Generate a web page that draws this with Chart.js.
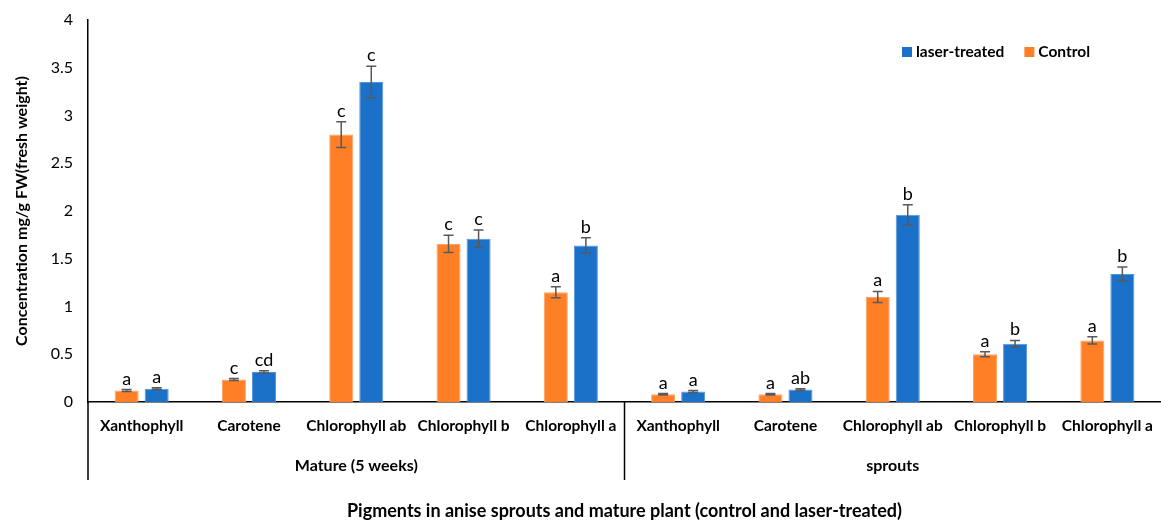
<!DOCTYPE html>
<html>
<head>
<meta charset="utf-8">
<script src="https://cdn.jsdelivr.net/npm/chart.js@4.4.1/dist/chart.umd.min.js"></script>
<style>
  html, body { margin: 0; padding: 0; background: #fff; }
  #wrap { width: 1161px; height: 525px; position: relative; }
</style>
</head>
<body>
<div id="wrap"><canvas id="myChart"></canvas></div>
<script>
var pigments = ["Xanthophyll", "Carotene", "Chlorophyll ab", "Chlorophyll b", "Chlorophyll a",
                "Xanthophyll", "Carotene", "Chlorophyll ab", "Chlorophyll b", "Chlorophyll a"];
var groups = ["Mature (5 weeks)", "sprouts"];
var groupSizes = [5, 5];

var controlValues = [0.12, 0.235, 2.8, 1.655, 1.15, 0.08, 0.08, 1.1, 0.5, 0.645];
var laserValues   = [0.14, 0.315, 3.35, 1.71, 1.64, 0.11, 0.13, 1.96, 0.61, 1.34];
var controlErr = [0.01, 0.01, 0.135, 0.09, 0.058, 0.008, 0.008, 0.058, 0.025, 0.037];
var laserErr   = [0.01, 0.012, 0.165, 0.09, 0.08, 0.01, 0.01, 0.105, 0.035, 0.073];
var controlLetters = ["a", "c", "c", "c", "a", "a", "a", "a", "a", "a"];
var laserLetters   = ["a", "cd", "c", "c", "b", "a", "ab", "b", "b", "b"];
var yTicks = [0, 0.5, 1, 1.5, 2, 2.5, 3, 3.5, 4];

var FONT = "Lato, 'Open Sans', sans-serif";

// error bars and the significance letters above them
const errorBarPlugin = {
  id: 'errorBars',
  afterDatasetsDraw(chart) {
    const ctx = chart.ctx;
    const y = chart.scales.y;
    chart.data.datasets.forEach((ds, i) => {
      const meta = chart.getDatasetMeta(i);
      meta.data.forEach((bar, j) => {
        const v = ds.data[j], e = ds.errors[j];
        const top = y.getPixelForValue(v + e);
        const bot = y.getPixelForValue(v - e);
        ctx.save();
        ctx.strokeStyle = '#595959';
        ctx.lineWidth = 1.5;
        ctx.beginPath();
        ctx.moveTo(bar.x, top); ctx.lineTo(bar.x, bot);
        ctx.moveTo(bar.x - 5, top); ctx.lineTo(bar.x + 5, top);
        ctx.moveTo(bar.x - 5, bot); ctx.lineTo(bar.x + 5, bot);
        ctx.stroke();
        ctx.fillStyle = '#000';
        ctx.font = '18px ' + FONT;
        ctx.textAlign = 'center';
        ctx.textBaseline = 'alphabetic';
        ctx.fillText(ds.letters[j], bar.x, top - 5);
        ctx.restore();
      });
    });
  }
};

// group labels under the category ticks, plus the divider lines
const groupPlugin = {
  id: 'groupAxis',
  afterDraw(chart) {
    const ctx = chart.ctx;
    const x = chart.scales.x;
    const area = chart.chartArea;
    const lineBottom = area.bottom + 78;
    ctx.save();
    ctx.strokeStyle = '#000';
    ctx.lineWidth = 1.5;
    ctx.fillStyle = '#000';
    ctx.font = 'bold 16px ' + FONT;
    ctx.textAlign = 'center';
    ctx.textBaseline = 'middle';
    ctx.beginPath();
    ctx.moveTo(area.left, area.bottom); ctx.lineTo(area.left, lineBottom);
    let start = 0;
    groups.forEach((g, k) => {
      const end = start + groupSizes[k] - 1;
      const half = (x.getPixelForTick(1) - x.getPixelForTick(0)) / 2;
      const x0 = x.getPixelForTick(start) - half;
      const x1 = x.getPixelForTick(end) + half;
      if (k < groups.length - 1) {
        ctx.moveTo(x1, area.bottom); ctx.lineTo(x1, lineBottom);
      }
      ctx.fillText(g, (x0 + x1) / 2, area.bottom + 64);
      start = end + 1;
    });
    ctx.stroke();
    ctx.restore();
  }
};

// legend inside the plot, laser-treated first
const legendPlugin = {
  id: 'innerLegend',
  afterDraw(chart) {
    const ctx = chart.ctx;
    ctx.save();
    ctx.font = 'bold 15.5px ' + FONT;
    ctx.textBaseline = 'middle';
    ctx.textAlign = 'left';
    let lx = 902;
    const ly = 52;
    chart.data.datasets.slice().reverse().forEach(ds => {
      ctx.fillStyle = ds.backgroundColor;
      ctx.fillRect(lx, ly - 5, 10, 10);
      ctx.fillStyle = '#000';
      ctx.fillText(ds.label, lx + 14, ly);
      lx += 14 + ctx.measureText(ds.label).width + 20;
    });
    ctx.restore();
  }
};

const config = {
  type: 'bar',
  data: {
    labels: pigments,
    datasets: [{
      label: 'Control',
      data: controlValues,
      errors: controlErr,
      letters: controlLetters,
      backgroundColor: '#FF7F27',
      borderColor: '#FFA466',
      borderWidth: 1
    }, {
      label: 'laser-treated',
      data: laserValues,
      errors: laserErr,
      letters: laserLetters,
      backgroundColor: '#1B71C8',
      borderColor: '#5796D6',
      borderWidth: 1
    }]
  },
  options: {
    responsive: true,
    maintainAspectRatio: false,
    animation: false,
    categoryPercentage: 0.56,
    barPercentage: 0.8,
    layout: { padding: { top: 20, left: 0, right: 0, bottom: 0 } },
    plugins: {
      legend: { display: false },
      tooltip: { enabled: false }
    },
    scales: {
      x: {
        grid: { display: false, drawTicks: false },
        border: { display: true, color: '#000', width: 1.5 },
        ticks: {
          color: '#000',
          font: { family: FONT, size: 15.5, weight: 'bold' },
          padding: 15,
          maxRotation: 0,
          autoSkip: false
        },
        title: {
          display: true,
          text: 'Pigments in anise sprouts and mature plant (control and laser-treated)',
          color: '#000',
          font: { family: FONT, size: 18, weight: 'bold' },
          padding: { top: 0, bottom: 3 }
        },
        afterFit(scale) {
          scale.height = 123;
          scale.paddingLeft = 0;
          scale.paddingRight = 0;
        }
      },
      y: {
        min: 0,
        max: 4,
        grid: { display: false, drawTicks: false },
        border: { display: true, color: '#000', width: 1.5 },
        afterBuildTicks(scale) {
          scale.ticks = yTicks.map(v => ({ value: v }));
        },
        ticks: {
          color: '#000',
          font: { family: FONT, size: 16 },
          padding: 15,
          callback: v => String(v)
        },
        title: {
          display: true,
          text: 'Concentration mg/g FW(fresh weight)',
          color: '#000',
          font: { family: FONT, size: 16, weight: 'bold' },
          padding: { top: 12, bottom: 0 }
        },
        afterFit(scale) {
          scale.width = 88;
          scale.paddingTop = 0;
          scale.paddingBottom = 0;
        }
      }
    }
  },
  plugins: [errorBarPlugin, groupPlugin, legendPlugin]
};

var ctx = document.getElementById('myChart');
var myChart = new Chart(ctx, config);
</script>
</body>
</html>
